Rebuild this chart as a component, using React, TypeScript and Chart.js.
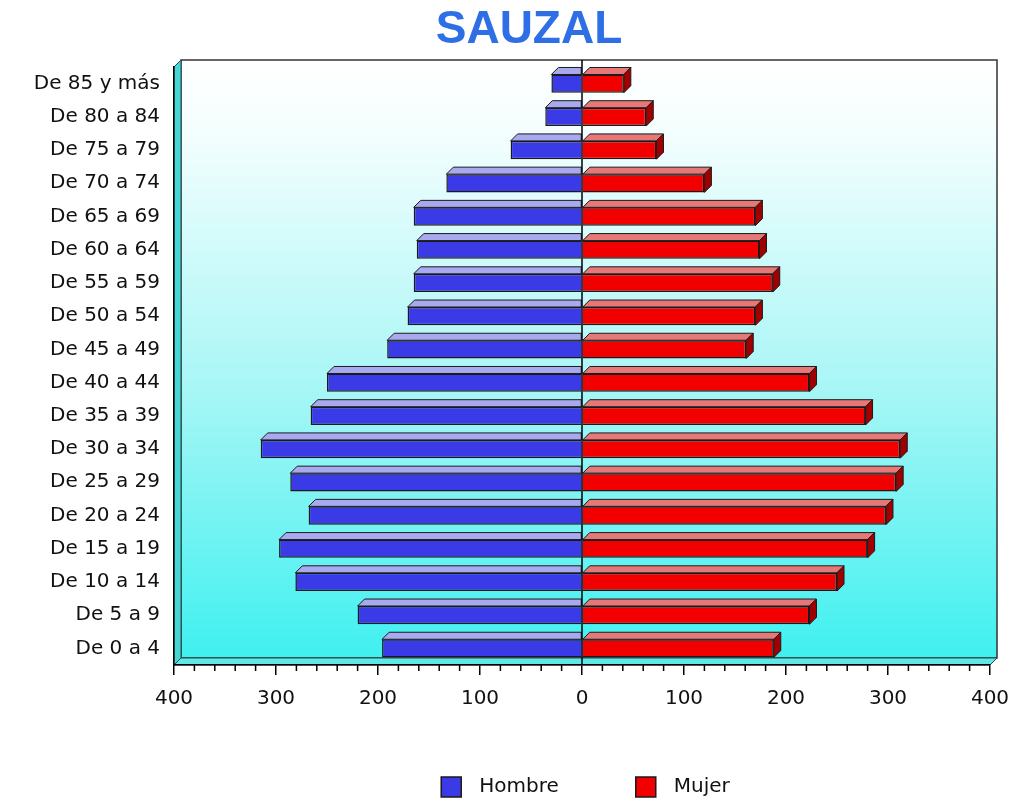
import React, { useEffect, useRef } from 'react';
import { Chart, registerables } from 'chart.js';

Chart.register(...registerables);

const TITLE = 'SAUZAL';
const categories = [
  'De 85 y más', 'De 80 a 84', 'De 75 a 79', 'De 70 a 74', 'De 65 a 69', 'De 60 a 64',
  'De 55 a 59', 'De 50 a 54', 'De 45 a 49', 'De 40 a 44', 'De 35 a 39', 'De 30 a 34',
  'De 25 a 29', 'De 20 a 24', 'De 15 a 19', 'De 10 a 14', 'De 5 a 9', 'De 0 a 4',
];
const hombre = [30, 36, 70, 133, 165, 162, 165, 171, 191, 250, 266, 315, 286, 268, 297, 281, 220, 196];
const mujer = [41, 63, 73, 120, 170, 174, 187, 170, 161, 223, 278, 312, 308, 298, 280, 250, 223, 188];
const xMin = -400;
const xMax = 400;
const majorStep = 100;
const minorStep = 20;

const DEPTH = 7;
const FONT = '"DejaVu Sans", sans-serif';

const HOMBRE_FRONT = '#3a3ae6';
const HOMBRE_TOP = '#a9a9f0';
const MUJER_FRONT = '#f20000';
const MUJER_TOP = '#e67878';
const MUJER_SIDE = '#a00000';
const EDGE = '#1a1a1a';

const wallsPlugin = {
  id: 'walls3d',
  beforeDraw(chart: any) {
    const { ctx, chartArea } = chart;
    const { left, right, top, bottom } = chartArea;
    const d = DEPTH;
    ctx.save();
    // back wall
    const g = ctx.createLinearGradient(0, top - d, 0, bottom - d);
    g.addColorStop(0, '#ffffff');
    g.addColorStop(0.12, '#f4fefe');
    g.addColorStop(0.55, '#a8f6f6');
    g.addColorStop(1, '#40f0f0');
    ctx.fillStyle = g;
    ctx.fillRect(left + d, top - d, right - left, bottom - top);
    ctx.strokeStyle = '#333333';
    ctx.lineWidth = 1.5;
    ctx.strokeRect(left + d, top - d, right - left, bottom - top);
    // left wall
    ctx.beginPath();
    ctx.moveTo(left, top);
    ctx.lineTo(left + d, top - d);
    ctx.lineTo(left + d, bottom - d);
    ctx.lineTo(left, bottom);
    ctx.closePath();
    ctx.fillStyle = '#46d6d6';
    ctx.fill();
    ctx.strokeStyle = '#2a4a4a';
    ctx.lineWidth = 1;
    ctx.stroke();
    // floor
    ctx.beginPath();
    ctx.moveTo(left, bottom);
    ctx.lineTo(left + d, bottom - d);
    ctx.lineTo(right + d, bottom - d);
    ctx.lineTo(right, bottom);
    ctx.closePath();
    ctx.fillStyle = '#5ee8e8';
    ctx.fill();
    ctx.strokeStyle = '#2a4a4a';
    ctx.stroke();
    ctx.restore();
  },
  afterDatasetsDraw(chart: any) {
    const { ctx, chartArea } = chart;
    const d = DEPTH;
    ctx.save();
    ctx.lineWidth = 1;
    ctx.strokeStyle = EDGE;
    chart.data.datasets.forEach((ds: any, di: number) => {
      const meta = chart.getDatasetMeta(di);
      meta.data.forEach((el: any) => {
        const { x, base, y, height } = el.getProps(['x', 'base', 'y', 'height'], true);
        const t = y - height / 2;
        const b = y + height / 2;
        if (x < base) {
          // left-going bar (Hombre): top face
          ctx.beginPath();
          ctx.moveTo(x, t);
          ctx.lineTo(base, t);
          ctx.lineTo(base, t - d);
          ctx.lineTo(x + d, t - d);
          ctx.closePath();
          ctx.fillStyle = ds.topColor;
          ctx.fill();
          ctx.stroke();
        } else {
          // right-going bar (Mujer): top face and side face
          ctx.beginPath();
          ctx.moveTo(base, t);
          ctx.lineTo(x, t);
          ctx.lineTo(x + d, t - d);
          ctx.lineTo(base + d, t - d);
          ctx.closePath();
          ctx.fillStyle = ds.topColor;
          ctx.fill();
          ctx.stroke();
          ctx.beginPath();
          ctx.moveTo(x, t);
          ctx.lineTo(x + d, t - d);
          ctx.lineTo(x + d, b - d);
          ctx.lineTo(x, b);
          ctx.closePath();
          ctx.fillStyle = ds.sideColor;
          ctx.fill();
          ctx.stroke();
        }
      });
    });
    // zero line
    const xs = chart.scales.x;
    const x0 = xs.getPixelForValue(0);
    ctx.beginPath();
    ctx.strokeStyle = '#000';
    ctx.lineWidth = 1.5;
    ctx.moveTo(x0, chartArea.top - d);
    ctx.lineTo(x0, chartArea.bottom);
    ctx.stroke();
    ctx.restore();
  },
  afterDraw(chart: any) {
    const { ctx, chartArea } = chart;
    const xs = chart.scales.x;
    ctx.save();
    // minor ticks
    ctx.strokeStyle = '#000';
    ctx.lineWidth = 1.5;
    for (let v = xMin; v <= xMax; v += minorStep) {
      if (v % majorStep === 0) continue;
      const px = xs.getPixelForValue(v);
      ctx.beginPath();
      ctx.moveTo(px, chartArea.bottom);
      ctx.lineTo(px, chartArea.bottom + 6);
      ctx.stroke();
    }
    // title
    ctx.fillStyle = '#2f6fe6';
    ctx.font = 'bold 46px "Liberation Sans", Arial, sans-serif';
    ctx.textAlign = 'center';
    ctx.textBaseline = 'middle';
    ctx.fillText(TITLE, chart.width / 2 + 17, 30);
    // legend
    ctx.font = `20px ${FONT}`;
    const box = 20;
    const gapText = 18;
    const gapItem = 77;
    const items = chart.data.datasets.map((ds: any) => ({
      label: ds.label,
      color: ds.backgroundColor,
      w: ctx.measureText(ds.label).width,
    }));
    let total = 0;
    items.forEach((it: any, i: number) => {
      total += box + gapText + it.w + (i > 0 ? gapItem : 0);
    });
    let cx = (chartArea.left + chartArea.right + DEPTH) / 2 - total / 2;
    const cy = 787;
    ctx.textAlign = 'left';
    ctx.textBaseline = 'middle';
    items.forEach((it: any) => {
      ctx.fillStyle = it.color;
      ctx.fillRect(cx, cy - box / 2, box, box);
      ctx.strokeStyle = EDGE;
      ctx.lineWidth = 1.5;
      ctx.strokeRect(cx, cy - box / 2, box, box);
      ctx.fillStyle = '#111';
      ctx.fillText(it.label, cx + box + gapText, cy);
      cx += box + gapText + it.w + gapItem;
    });
    ctx.restore();
  },
};

export default function App() {
  const ref = useRef<HTMLCanvasElement>(null);
  useEffect(() => {
    document.body.style.margin = '0';
    const chart = new Chart(ref.current as HTMLCanvasElement, {
      type: 'bar',
      data: {
        labels: categories,
        datasets: [
          {
            label: 'Hombre',
            data: hombre.map((v) => -v),
            backgroundColor: HOMBRE_FRONT,
            borderColor: EDGE,
            borderWidth: 1.5,
            topColor: HOMBRE_TOP,
            sideColor: HOMBRE_TOP,
          } as any,
          {
            label: 'Mujer',
            data: mujer,
            backgroundColor: MUJER_FRONT,
            borderColor: EDGE,
            borderWidth: 1.5,
            topColor: MUJER_TOP,
            sideColor: MUJER_SIDE,
          } as any,
        ],
      },
      options: {
        indexAxis: 'y',
        responsive: false,
        devicePixelRatio: 1,
        animation: false,
        datasets: { bar: { categoryPercentage: 1, barPercentage: 0.55 } },
        layout: { padding: { top: 67, right: 34, bottom: 81, left: 0 } },
        font: { family: FONT, size: 20 } as any,
        plugins: {
          legend: { display: false },
          title: { display: false },
          tooltip: { enabled: false },
        },
        scales: {
          x: {
            type: 'linear',
            min: xMin,
            max: xMax,
            stacked: true,
            ticks: {
              stepSize: majorStep,
              color: '#111',
              font: { family: FONT, size: 20 },
              padding: 12,
              callback: (v: any) => String(Math.abs(Number(v))),
            },
            grid: {
              display: true,
              drawOnChartArea: false,
              drawTicks: true,
              tickLength: 10,
              color: '#000',
              lineWidth: 1.5,
            },
            border: { display: true, color: '#000', width: 1.5 },
          },
          y: {
            type: 'category',
            stacked: true,
            ticks: {
              color: '#111',
              font: { family: FONT, size: 20 },
              padding: 6,
            },
            grid: { display: false },
            border: { display: true, color: '#000', width: 1.5 },
            afterFit: (scale: any) => {
              scale.width = 174;
            },
          },
        },
      } as any,
      plugins: [wallsPlugin],
    });
    return () => chart.destroy();
  }, []);
  return (
    <div style={{ width: 1024, height: 804 }}>
      <canvas ref={ref} width={1024} height={804} style={{ display: 'block' }} />
    </div>
  );
}
